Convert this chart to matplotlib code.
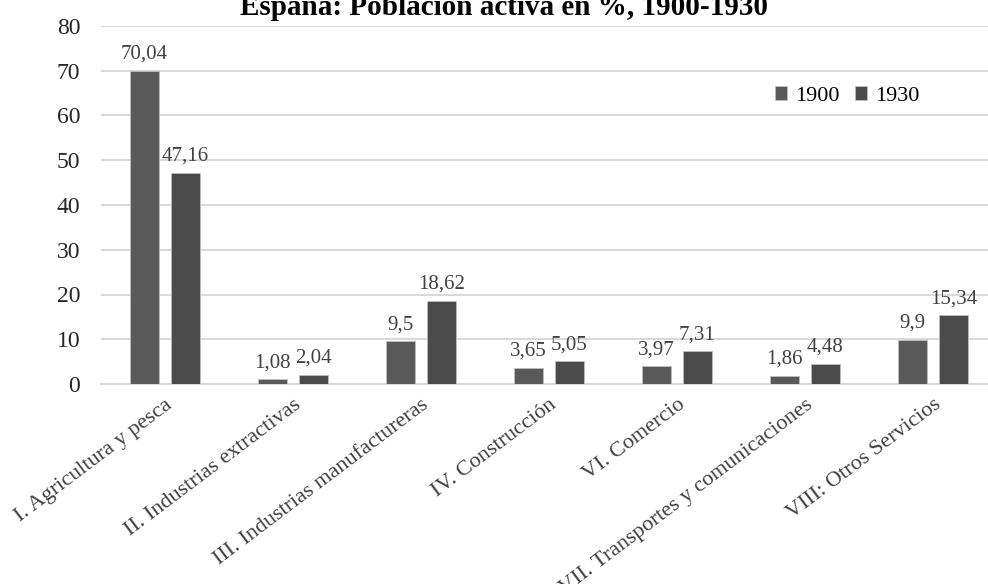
import matplotlib.pyplot as plt
import numpy as np

categorias = ['I. Agricultura y pesca', 'II. Industrias extractivas',
              'III. Industrias manufactureras', 'IV. Construcción',
              'VI. Comercio', 'VII. Transportes y comunicaciones',
              'VIII: Otros Servicios']
valores_1900 = [70.04, 1.08, 9.5, 3.65, 3.97, 1.86, 9.9]
valores_1930 = [47.16, 2.04, 18.62, 5.05, 7.31, 4.48, 15.34]
etiquetas_1900 = ['70,04', '1,08', '9,5', '3,65', '3,97', '1,86', '9,9']
etiquetas_1930 = ['47,16', '2,04', '18,62', '5,05', '7,31', '4,48', '15,34']

plt.rcParams['font.family'] = ['Liberation Serif', 'DejaVu Serif']

fig = plt.figure(figsize=(9.88, 5.84), dpi=100)
ax = fig.add_axes([101 / 988, 1 - 384 / 584, 896 / 988, 358 / 584])

x = np.arange(len(categorias))
ancho = 0.226
desp = 0.16
b1 = ax.bar(x - desp, valores_1900, ancho, color='#595959',
            edgecolor='#bfbfbf', linewidth=0.6, label='1900', zorder=3)
b2 = ax.bar(x + desp, valores_1930, ancho, color='#4b4b4b',
            edgecolor='#bfbfbf', linewidth=0.6, label='1930', zorder=3)
ax.bar_label(b1, labels=etiquetas_1900, padding=5, fontsize=15, color='#404040')
ax.bar_label(b2, labels=etiquetas_1930, padding=5, fontsize=15, color='#404040')

ax.set_xlim(-0.5, len(categorias) - 0.5)
ax.set_ylim(0, 80)
ax.set_yticks(range(0, 81, 10))
ax.grid(axis='y', color='#d9d9d9', linewidth=1.5, zorder=0)
for s in ['top', 'right', 'left']:
    ax.spines[s].set_visible(False)
ax.spines['bottom'].set_color('#d9d9d9')
ax.spines['bottom'].set_linewidth(1.5)
ax.tick_params(axis='both', length=0)
ax.tick_params(axis='y', pad=15, labelsize=17, labelcolor='#262626')
ax.tick_params(axis='x', pad=8)
ax.set_xticks(x)
ax.set_xticklabels(categorias, rotation=37, ha='right', va='top',
                   rotation_mode='anchor', fontsize=16, color='#404040')

ax.legend(loc='center left', bbox_to_anchor=(0.752, 0.804), ncol=2, frameon=False,
          fontsize=16, handlelength=0.55, handleheight=0.55, handletextpad=0.36,
          columnspacing=0.68, borderaxespad=0, borderpad=0)

fig.text(0.51, 1 - 15 / 584, 'España: Población activa en %, 1900-1930',
         ha='center', va='baseline', fontsize=21, fontweight='bold')

fig.savefig('out.png', dpi=100)
